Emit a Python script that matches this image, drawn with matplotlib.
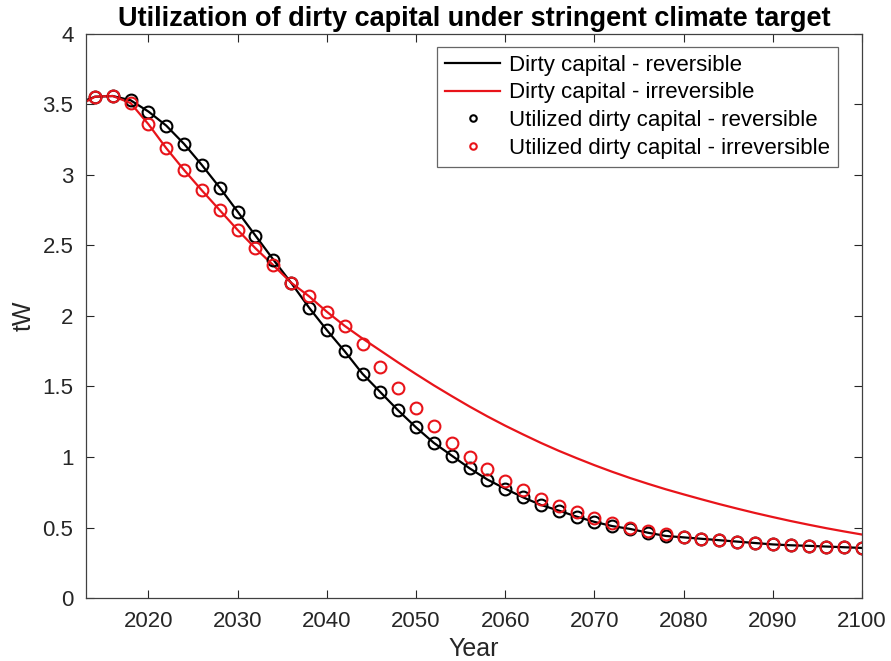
import numpy as np
import matplotlib
matplotlib.use("Agg")
import matplotlib.pyplot as plt

# ────────────────────────────────────────────────────────────────────────────────
# DATA – values (tW)
# ────────────────────────────────────────────────────────────────────────────────
marker_years = list(range(2014, 2101, 2))

util_rev = [3.555, 3.56, 3.53, 3.45, 3.35, 3.22, 3.07, 2.91, 2.74, 2.57,
            2.40, 2.235, 2.06, 1.90, 1.75, 1.59, 1.46, 1.33, 1.21, 1.10,
            1.01, 0.92, 0.84, 0.775, 0.714, 0.66, 0.62, 0.577, 0.54, 0.51,
            0.49, 0.463, 0.44, 0.43, 0.42, 0.41, 0.40, 0.39, 0.38, 0.374,
            0.37, 0.365, 0.36, 0.355]

util_irr = [3.555, 3.56, 3.51, 3.36, 3.19, 3.035, 2.89, 2.75, 2.61, 2.48,
            2.36, 2.236, 2.14, 2.03, 1.93, 1.80, 1.64, 1.49, 1.35, 1.22,
            1.10, 1.00, 0.915, 0.83, 0.764, 0.70, 0.65, 0.61, 0.57, 0.534,
            0.50, 0.475, 0.454, 0.435, 0.42, 0.41, 0.40, 0.39, 0.38, 0.374,
            0.37, 0.365, 0.36, 0.355]

line_years = [2013] + marker_years

cap_rev = [3.53] + util_rev

cap_irr = [3.52, 3.555, 3.56, 3.51, 3.36, 3.19, 3.035, 2.89, 2.75, 2.61, 2.48,
           2.36, 2.236, 2.14, 2.03, 1.93, 1.84, 1.755, 1.67, 1.588, 1.508,
           1.432, 1.358, 1.288, 1.222, 1.16, 1.10, 1.044, 0.992, 0.942, 0.895,
           0.851, 0.81, 0.771, 0.735, 0.70, 0.666, 0.634, 0.603, 0.574, 0.546,
           0.52, 0.495, 0.472, 0.45]

RED = "#e8141a"
# ────────────────────────────────────────────────────────────────────────────────

plt.rcParams["font.family"] = ["Liberation Sans", "DejaVu Sans"]

fig = plt.figure(figsize=(8.91, 6.61), dpi=100)
ax = fig.add_axes([0.0965, 0.0953, 0.871, 0.8533])

ax.plot(line_years, cap_rev, color="black", lw=1.6,
        label="Dirty capital - reversible")
ax.plot(line_years, cap_irr, color=RED, lw=1.6,
        label="Dirty capital - irreversible")
ax.plot(marker_years, util_rev, "o", mfc="none", mec="black", mew=1.5, ms=8.5,
        label="Utilized dirty capital - reversible")
ax.plot(marker_years, util_irr, "o", mfc="none", mec=RED, mew=1.5, ms=8.5,
        label="Utilized dirty capital - irreversible")

ax.set_xlim(2013, 2100)
ax.set_ylim(0, 4)
ax.set_xticks(range(2020, 2101, 10))
ax.set_yticks(np.arange(0, 4.01, 0.5))
ax.set_yticklabels(["0", "0.5", "1", "1.5", "2", "2.5", "3", "3.5", "4"])

ax.tick_params(direction="in", length=6, width=0.8, top=True, right=True,
               labelsize=16, colors="#262626", pad=9)
for s in ax.spines.values():
    s.set_color("#404040")
    s.set_linewidth(0.9)

ax.set_xlabel("Year", fontsize=18, color="#262626", labelpad=4)
ax.set_ylabel("tW", fontsize=18, color="#262626", labelpad=5)
ax.set_title("Utilization of dirty capital under stringent climate target",
             fontsize=19.5, fontweight="bold", pad=6)

leg = ax.legend(loc="upper right", bbox_to_anchor=(0.969, 0.977), fontsize=16,
                frameon=True, fancybox=False, edgecolor="#404040",
                handlelength=2.5, handletextpad=0.4, markerscale=0.55,
                borderpad=0.35, labelspacing=0.3, borderaxespad=0.0)
leg.get_frame().set_linewidth(0.9)

fig.savefig("out.png", dpi=100)
